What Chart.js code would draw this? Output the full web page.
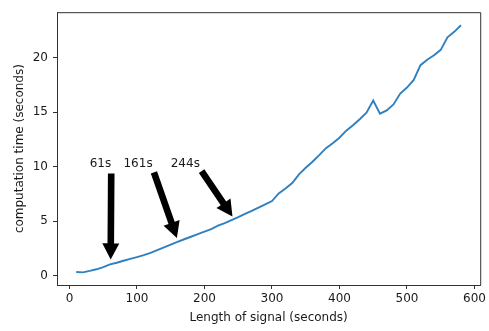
<!DOCTYPE html>
<html>
<head>
<meta charset="utf-8">
<script src="https://cdn.jsdelivr.net/npm/chart.js@4/dist/chart.umd.min.js"></script>
<style>
  html, body { margin: 0; padding: 0; background: #fff; }
  canvas { display: block; }
</style>
</head>
<body>
<canvas id="chart" width="489" height="331"></canvas>
<script>
// Data
const signalLengths = [10, 20, 30, 40, 50, 60, 70, 80, 90, 100,
  110, 120, 130, 140, 150, 160, 170, 180, 190, 200,
  210, 220, 230, 240, 250, 260, 270, 280, 290, 300,
  310, 320, 330, 340, 350, 360, 370, 380, 390, 400,
  410, 420, 430, 440, 450, 460, 470, 480, 490, 500,
  510, 520, 530, 540, 550, 560, 570, 580];
const computeTimes = [0.35, 0.32, 0.45, 0.6, 0.8, 1.05, 1.2, 1.38, 1.55, 1.72,
  1.9, 2.1, 2.35, 2.6, 2.85, 3.1, 3.35, 3.58, 3.82, 4.05,
  4.28, 4.6, 4.82, 5.1, 5.38, 5.68, 5.95, 6.25, 6.55, 6.85,
  7.55, 8.0, 8.5, 9.3, 9.9, 10.45, 11.05, 11.7, 12.15, 12.65,
  13.3, 13.8, 14.35, 14.95, 16.05, 14.85, 15.15, 15.7, 16.7, 17.25,
  17.95, 19.3, 19.8, 20.2, 20.7, 21.85, 22.35, 22.95];

const xTicks = [0, 100, 200, 300, 400, 500, 600];
const yTicks = [0, 5, 10, 15, 20];

// Annotations: label, arrow target (x, y), text position (x, y)
const noteLabels = ["61s", "161s", "244s"];
const noteTargetX = [61, 161, 244];
const noteTargetY = [1.07, 3.13, 5.2];
const noteTextX = [30, 80, 150];
const noteTextY = [10, 10, 10];

const FONT = "DejaVu Sans";
const TEXT_COLOR = "#1a1a1a";

// top + right spines, like matplotlib's box
const boxPlugin = {
  id: "box",
  afterDraw(chart) {
    const { ctx, chartArea } = chart;
    ctx.save();
    ctx.strokeStyle = "#333";
    ctx.lineWidth = 1;
    ctx.beginPath();
    ctx.moveTo(chartArea.left, chartArea.top + 0.5);
    ctx.lineTo(chartArea.right + 0.5, chartArea.top + 0.5);
    ctx.lineTo(chartArea.right + 0.5, chartArea.bottom);
    ctx.stroke();
    ctx.restore();
  },
};

// text + fat black arrows (mimics annotate with shrink=0.05)
const notesPlugin = {
  id: "notes",
  afterDraw(chart) {
    const { ctx } = chart;
    const xs = chart.scales.x;
    const ys = chart.scales.y;
    ctx.save();
    ctx.font = "12px '" + FONT + "'";
    ctx.textBaseline = "alphabetic";
    ctx.textAlign = "left";
    noteLabels.forEach((label, i) => {
      const tx = xs.getPixelForValue(noteTextX[i]);
      const ty = ys.getPixelForValue(noteTextY[i]);
      ctx.fillStyle = TEXT_COLOR;
      ctx.fillText(label, tx, ty);

      const w = ctx.measureText(label).width;
      const bx0 = tx, bx1 = tx + w;
      const by1 = ty + 2; // bottom of text box

      const px = xs.getPixelForValue(noteTargetX[i]);
      const py = ys.getPixelForValue(noteTargetY[i]);

      // closest point of the text box in x
      const cands = [bx0, (bx0 + bx1) / 2, bx1];
      let sx = cands[0];
      cands.forEach((c) => {
        if (Math.abs(c - px) < Math.abs(sx - px)) sx = c;
      });
      let sy = by1;

      const dx = px - sx, dy = py - sy;
      const len = Math.sqrt(dx * dx + dy * dy);
      const ux = dx / len, uy = dy / len;
      const shrink = 0.05 * len;
      const x0 = sx + ux * shrink, y0 = sy + uy * shrink;
      const x1 = px - ux * shrink, y1 = py - uy * shrink;
      const L = len - 2 * shrink;

      const shaft = 3.3, head = 8.5, headLen = 16;
      const nx = -uy, ny = ux;
      const hx = x0 + ux * (L - headLen), hy = y0 + uy * (L - headLen);

      ctx.fillStyle = "#000";
      ctx.beginPath();
      ctx.moveTo(x0 + nx * shaft, y0 + ny * shaft);
      ctx.lineTo(hx + nx * shaft, hy + ny * shaft);
      ctx.lineTo(hx + nx * head, hy + ny * head);
      ctx.lineTo(x1, y1);
      ctx.lineTo(hx - nx * head, hy - ny * head);
      ctx.lineTo(hx - nx * shaft, hy - ny * shaft);
      ctx.lineTo(x0 - nx * shaft, y0 - ny * shaft);
      ctx.closePath();
      ctx.fill();
    });
    ctx.restore();
  },
};

const points = signalLengths.map((x, i) => ({ x: x, y: computeTimes[i] }));

const ctx = document.getElementById("chart").getContext("2d");
new Chart(ctx, {
  type: "line",
  data: {
    datasets: [
      {
        data: points,
        borderColor: "#2f80c0",
        borderWidth: 1.9,
        pointRadius: 0,
        fill: false,
        tension: 0,
      },
    ],
  },
  options: {
    responsive: false,
    animation: false,
    devicePixelRatio: 1,
    layout: { padding: { top: 7, right: 6, left: 0, bottom: 0 } },
    plugins: {
      legend: { display: false },
      tooltip: { enabled: false },
    },
    scales: {
      x: {
        type: "linear",
        min: -18.5,
        max: 608.5,
        afterBuildTicks: (scale) => {
          scale.ticks = xTicks.map((v) => ({ value: v }));
        },
        afterFit: (scale) => {
          scale.height = 46;
        },
        grid: {
          display: true,
          drawOnChartArea: false,
          drawTicks: true,
          tickLength: 4,
          tickColor: "#333",
        },
        border: { display: true, color: "#333", width: 1 },
        ticks: {
          padding: 3,
          maxRotation: 0,
          color: TEXT_COLOR,
          font: { family: FONT, size: 12 },
        },
        title: {
          display: true,
          text: "Length of signal (seconds)",
          color: TEXT_COLOR,
          font: { family: FONT, size: 12 },
          padding: { top: 0, bottom: 6 },
        },
      },
      y: {
        type: "linear",
        min: -0.84,
        max: 24.15,
        afterBuildTicks: (scale) => {
          scale.ticks = yTicks.map((v) => ({ value: v }));
        },
        afterFit: (scale) => {
          scale.width = 57;
        },
        grid: {
          display: true,
          drawOnChartArea: false,
          drawTicks: true,
          tickLength: 4,
          tickColor: "#333",
        },
        border: { display: true, color: "#333", width: 1 },
        ticks: {
          padding: 5,
          color: TEXT_COLOR,
          font: { family: FONT, size: 12 },
        },
        title: {
          display: true,
          text: "computation time (seconds)",
          color: TEXT_COLOR,
          font: { family: FONT, size: 12 },
          padding: { top: 13, bottom: 0 },
        },
      },
    },
  },
  plugins: [boxPlugin, notesPlugin],
});
</script>
</body>
</html>
